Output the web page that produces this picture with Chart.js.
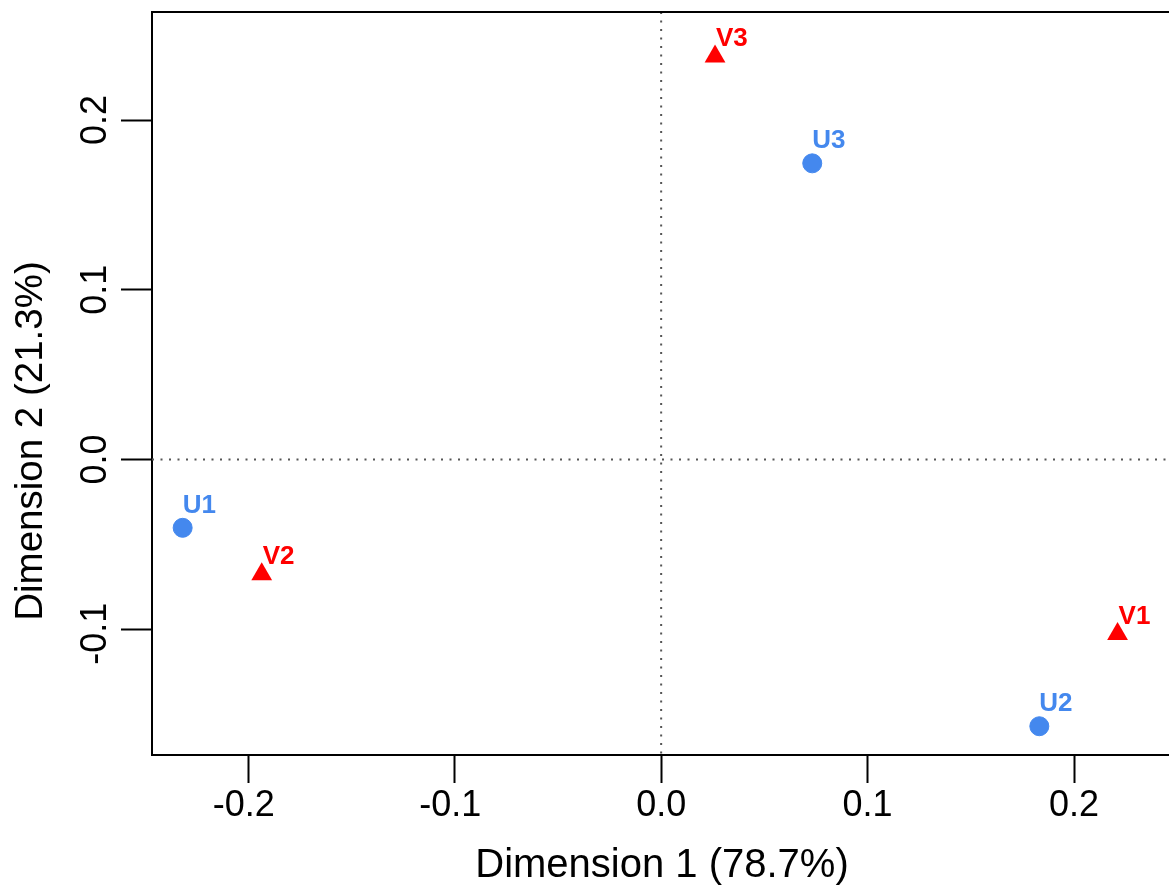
<!DOCTYPE html>
<html>
<head>
<meta charset="utf-8">
<script src="https://cdn.jsdelivr.net/npm/chart.js@4"></script>
<style>
    body { margin: 0; background: #fff; overflow: hidden; }
    canvas { display: block; }
</style>
</head>
<body>
<canvas id="myChart" width="1169" height="885"></canvas>
<script>
// row points (U) and column points (V)
const rowNames = ['U1', 'U2', 'U3'];
const rowX = [-0.2318, 0.1832, 0.0732];
const rowY = [-0.0402, -0.1571, 0.1745];
const colNames = ['V1', 'V2', 'V3'];
const colX = [0.2211, -0.1935, 0.0261];
const colY = [-0.1028, -0.0676, 0.2375];

const xTicks = [-0.2, -0.1, 0.0, 0.1, 0.2];
const yTicks = [-0.1, 0.0, 0.1, 0.2];
const xTitle = 'Dimension 1 (78.7%)';
const yTitle = 'Dimension 2 (21.3%)';

const FONT = '"Liberation Sans", Arial, Helvetica, sans-serif';
const BLUE = '#4488ee';
const RED = '#ff0000';

function toPoints(xs, ys) {
    return xs.map((x, i) => ({ x: x, y: ys[i] }));
}

// centred like R does it: width measured with a minus sign, drawn with a hyphen
function tickText(ctx, v, x, y) {
    const txt = v.toFixed(1);
    const w = ctx.measureText(txt.replace('-', '\u2212')).width;
    ctx.textAlign = 'left';
    ctx.fillText(txt, x - w / 2, y);
}

const extras = {
    id: 'extras',
    beforeDatasetsDraw: (chart) => {
        const { ctx, chartArea, scales } = chart;
        const x0 = scales.x.getPixelForValue(0);
        const y0 = scales.y.getPixelForValue(0);
        ctx.save();
        // dotted zero lines
        ctx.strokeStyle = '#555';
        ctx.lineWidth = 2;
        ctx.setLineDash([2, 6.5]);
        ctx.beginPath();
        ctx.moveTo(x0, chartArea.top);
        ctx.lineTo(x0, chartArea.bottom);
        ctx.moveTo(chartArea.left, y0);
        ctx.lineTo(chartArea.right, y0);
        ctx.stroke();
        ctx.setLineDash([]);
        // top part of the box
        ctx.strokeStyle = '#000';
        ctx.beginPath();
        ctx.moveTo(chartArea.left - 1, chartArea.top);
        ctx.lineTo(chartArea.right, chartArea.top);
        ctx.stroke();
        ctx.restore();
    },
    afterDatasetsDraw: (chart) => {
        const { ctx, scales } = chart;
        ctx.save();
        ctx.fillStyle = '#000';
        ctx.textBaseline = 'alphabetic';

        // x tick labels
        ctx.font = '36px ' + FONT;
        xTicks.forEach(v => {
            tickText(ctx, v, scales.x.getPixelForValue(v), 816);
        });

        // y tick labels, rotated
        yTicks.forEach(v => {
            ctx.save();
            ctx.translate(106, scales.y.getPixelForValue(v));
            ctx.rotate(-Math.PI / 2);
            tickText(ctx, v, 0, 0);
            ctx.restore();
        });

        // axis titles
        ctx.textAlign = 'center';
        ctx.font = '40px ' + FONT;
        ctx.fillText(xTitle, 662, 877);
        ctx.font = '38.5px ' + FONT;
        ctx.save();
        ctx.translate(42, 441);
        ctx.rotate(-Math.PI / 2);
        ctx.fillText(yTitle, 0, 0);
        ctx.restore();

        // point labels
        ctx.font = 'bold 26px ' + FONT;
        ctx.textAlign = 'left';
        ctx.fillStyle = BLUE;
        rowNames.forEach((name, i) => {
            ctx.fillText(name, scales.x.getPixelForValue(rowX[i]), scales.y.getPixelForValue(rowY[i]) - 15);
        });
        ctx.fillStyle = RED;
        colNames.forEach((name, i) => {
            ctx.fillText(name, scales.x.getPixelForValue(colX[i]) + 1, scales.y.getPixelForValue(colY[i]) - 10);
        });
        ctx.restore();
    }
};

const ctx = document.getElementById('myChart').getContext('2d');
const myChart = new Chart(ctx, {
    type: 'scatter',
    data: {
        datasets: [
            {
                label: 'rows',
                data: toPoints(rowX, rowY),
                pointStyle: 'circle',
                pointRadius: 9.5,
                pointBorderWidth: 1,
                backgroundColor: BLUE,
                borderColor: BLUE
            },
            {
                label: 'columns',
                data: toPoints(colX, colY),
                pointStyle: 'triangle',
                pointRadius: 12,
                pointBorderWidth: 0,
                backgroundColor: RED,
                borderColor: RED
            }
        ]
    },
    options: {
        responsive: false,
        animation: false,
        devicePixelRatio: 1,
        layout: {
            autoPadding: false,
            padding: { top: 12, right: 0, bottom: 0, left: 0 }
        },
        plugins: {
            legend: { display: false },
            tooltip: { enabled: false }
        },
        scales: {
            x: {
                type: 'linear',
                position: 'bottom',
                min: -0.24665,
                max: 0.24602,
                afterBuildTicks: (scale) => {
                    scale.ticks = xTicks.map(v => ({ value: v }));
                },
                afterFit: (scale) => {
                    scale.height = 130;
                },
                ticks: { display: false },
                grid: {
                    drawOnChartArea: false,
                    drawTicks: true,
                    tickLength: 28,
                    tickWidth: 2,
                    tickColor: '#000'
                },
                border: { display: true, color: '#000', width: 2 }
            },
            y: {
                type: 'linear',
                position: 'left',
                min: -0.17404,
                max: 0.26365,
                afterBuildTicks: (scale) => {
                    scale.ticks = yTicks.map(v => ({ value: v }));
                },
                afterFit: (scale) => {
                    scale.width = 152;
                },
                ticks: { display: false },
                grid: {
                    drawOnChartArea: false,
                    drawTicks: true,
                    tickLength: 31,
                    tickWidth: 2,
                    tickColor: '#000'
                },
                border: { display: true, color: '#000', width: 2 }
            }
        }
    },
    plugins: [extras]
});
</script>
</body>
</html>
